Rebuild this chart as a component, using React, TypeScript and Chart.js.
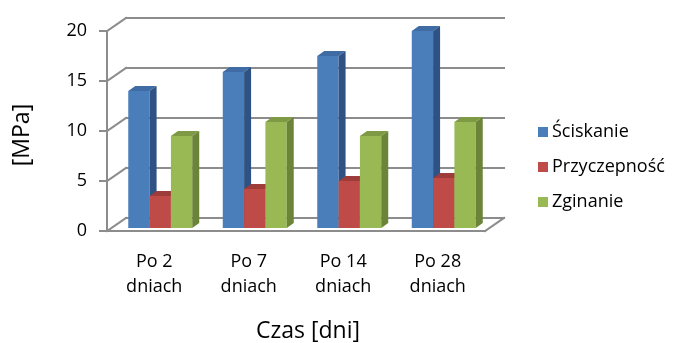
import React, { useEffect, useRef } from 'react';
import { Chart, registerables } from 'chart.js';

Chart.register(...registerables);

// ---- data ----
const categories: string[][] = [
  ['Po 2', 'dniach'],
  ['Po 7', 'dniach'],
  ['Po 14', 'dniach'],
  ['Po 28', 'dniach'],
];
const seriesNames = ['Ściskanie', 'Przyczepność', 'Zginanie'];
const sciskanie = [13.7, 15.6, 17.2, 19.7];
const przyczepnosc = [3.2, 3.9, 4.7, 5.0];
const zginanie = [9.2, 10.6, 9.2, 10.6];
const yTicks = [0, 5, 10, 15, 20];
const yTitle = '[MPa]';
const xTitle = 'Czas [dni]';

// ---- styles ----
const FONT = '"Open Sans", sans-serif';
const frontColors = ['#4A7EBB', '#BE4B48', '#98B954'];
const topColors = ['#3F6CA5', '#9E3C39', '#7E9A45'];
const sideColors = ['#2E5283', '#893330', '#6B8438'];
const WALL_DX = 19;
const WALL_DY = -13;
const BAR_SHIFT_X = 6;
const BAR_SHIFT_Y = -3;
const BAR_DX = 7;
const BAR_DY = -5;
const GRID = '#8c8c8c';

const frame3d = {
  id: 'frame3d',
  beforeDatasetsDraw(chart: any) {
    const { ctx, chartArea, scales } = chart;
    const { left, right, bottom } = chartArea;
    const y = scales.y;
    const line = (x1: number, y1: number, x2: number, y2: number) => {
      ctx.beginPath();
      ctx.moveTo(x1, y1);
      ctx.lineTo(x2, y2);
      ctx.stroke();
    };
    ctx.save();
    ctx.strokeStyle = GRID;
    ctx.lineWidth = 2;
    ctx.lineCap = 'square';
    for (const v of yTicks) {
      const py = y.getPixelForValue(v);
      line(left, py, left + WALL_DX, py + WALL_DY);
      line(left + WALL_DX, py + WALL_DY, right + WALL_DX, py + WALL_DY);
      line(left - 7, py, left, py);
    }
    line(left, y.getPixelForValue(yTicks[0]), left, y.getPixelForValue(yTicks[yTicks.length - 1]));
    line(left, bottom, right, bottom);
    line(right, bottom, right + WALL_DX, bottom + WALL_DY);
    ctx.restore();
    // hide the library's own flat bars; the 3D bars are painted afterwards from the same elements
    ctx.save();
    ctx.globalAlpha = 0;
  },
  afterDatasetsDraw(chart: any) {
    const ctx = chart.ctx;
    ctx.restore();
    const metas = chart.data.datasets.map((_: any, i: number) => chart.getDatasetMeta(i));
    const n = chart.data.labels.length;
    ctx.save();
    ctx.translate(BAR_SHIFT_X, BAR_SHIFT_Y);
    for (let c = 0; c < n; c++) {
      metas.forEach((meta: any, i: number) => {
        const el = meta.data[c];
        if (!el) return;
        const p = el.getProps(['x', 'y', 'width', 'base'], true);
        const l = p.x - p.width / 2;
        const r = p.x + p.width / 2;
        const t = p.y;
        const b = p.base;
        ctx.fillStyle = frontColors[i];
        ctx.fillRect(l, t, r - l, b - t);
        ctx.fillStyle = topColors[i];
        ctx.beginPath();
        ctx.moveTo(l, t);
        ctx.lineTo(l + BAR_DX, t + BAR_DY);
        ctx.lineTo(r + BAR_DX, t + BAR_DY);
        ctx.lineTo(r, t);
        ctx.closePath();
        ctx.fill();
        ctx.fillStyle = sideColors[i];
        ctx.beginPath();
        ctx.moveTo(r, t);
        ctx.lineTo(r + BAR_DX, t + BAR_DY);
        ctx.lineTo(r + BAR_DX, b + BAR_DY);
        ctx.lineTo(r, b);
        ctx.closePath();
        ctx.fill();
      });
    }
    ctx.restore();
  },
  afterDraw(chart: any) {
    const ctx = chart.ctx;
    ctx.save();
    ctx.fillStyle = '#000';
    // axis titles
    ctx.font = `23px ${FONT}`;
    ctx.textAlign = 'center';
    ctx.textBaseline = 'alphabetic';
    ctx.fillText(xTitle, 308, 338);
    ctx.save();
    ctx.translate(22, 135);
    ctx.rotate(-Math.PI / 2);
    ctx.textBaseline = 'middle';
    ctx.fillText(yTitle, 0, 0);
    ctx.restore();
    // legend
    ctx.font = `18px ${FONT}`;
    ctx.textAlign = 'left';
    ctx.textBaseline = 'middle';
    chart.data.datasets.forEach((ds: any, i: number) => {
      const cy = 132 + 35 * i;
      ctx.fillStyle = frontColors[i];
      ctx.fillRect(538, cy - 5, 10, 10);
      ctx.fillStyle = '#000';
      ctx.fillText(ds.label, 552, cy);
    });
    ctx.restore();
  },
};

export default function App() {
  const ref = useRef<HTMLCanvasElement | null>(null);
  useEffect(() => {
    if (!ref.current) return;
    const values = [sciskanie, przyczepnosc, zginanie];
    const chart = new Chart(ref.current, {
      type: 'bar',
      data: {
        labels: categories,
        datasets: values.map((d, i) => ({
          label: seriesNames[i],
          data: d,
          backgroundColor: frontColors[i],
          borderWidth: 0,
          clip: false as any,
        })),
      },
      options: {
        responsive: false,
        animation: false,
        events: [],
        layout: { padding: { left: 0, top: 31, right: 190, bottom: 0 } },
        plugins: { legend: { display: false }, tooltip: { enabled: false } },
        datasets: { bar: { barPercentage: 1, categoryPercentage: 0.677 } },
        scales: {
          x: {
            type: 'category',
            grid: { display: false, drawTicks: false },
            border: { display: false },
            ticks: {
              color: '#000',
              font: { family: FONT, size: 18, lineHeight: 1.4 },
              padding: 18,
              maxRotation: 0,
              autoSkip: false,
            },
            afterFit: (s: any) => { s.height = 112; },
          },
          y: {
            min: 0,
            max: 20,
            grid: { display: false, drawTicks: false },
            border: { display: false },
            ticks: {
              stepSize: 5,
              color: '#000',
              font: { family: FONT, size: 18 },
              padding: 20,
            },
            afterFit: (s: any) => { s.width = 107; },
          },
        },
      } as any,
      plugins: [frame3d],
    });
    return () => chart.destroy();
  }, []);
  return (
    <div style={{ position: 'fixed', left: 0, top: 0, width: 675, height: 343, background: '#fff' }}>
      <canvas ref={ref} width={675} height={343} style={{ display: 'block' }} />
    </div>
  );
}
